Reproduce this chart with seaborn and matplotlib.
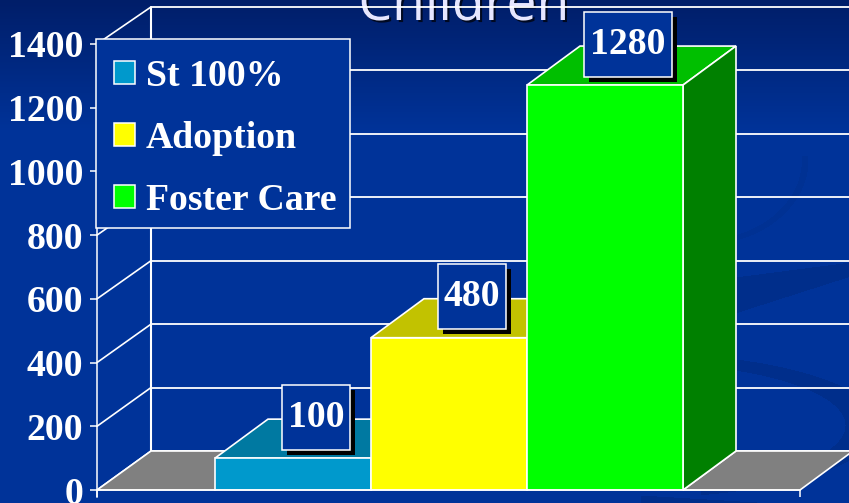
import numpy as np
import pandas as pd
import matplotlib
matplotlib.use("Agg")
import matplotlib.pyplot as plt
import matplotlib.patheffects as pe
from matplotlib.patches import Patch, Polygon, Rectangle
from matplotlib.path import Path
import seaborn as sns

categories = ["St 100%", "Adoption", "Foster Care"]
bar_heights = [100, 478, 1271]
bar_labels = ["100", "480", "1280"]
front_colors = ["#0099CC", "#FFFF00", "#00FF00"]
top_colors = ["#0079A1", "#C2C200", "#00BF00"]
side_colors = ["#006080", "#808000", "#008000"]
y_levels = [0, 200, 400, 600, 800, 1000, 1200, 1400]

W, H = 849, 503
PX_PER_CAT = 156.0
PX_PER_VAL = 0.3186
X0_PX, Y0_PX = 293.0, 490.0
DEPTH_X = 53 / PX_PER_CAT
DEPTH_Y = 39 / PX_PER_VAL
WALL_SCALE = 0.9955
LEFT = (97 - X0_PX) / PX_PER_CAT
RIGHT = (800 - X0_PX) / PX_PER_CAT
EDGE = "#FFFFFF"
BOXBLUE = "#003399"
SERIF = "Liberation Serif"
FS = 27.2

sns.set_theme(style="white")
plt.rcParams["font.family"] = [SERIF, "DejaVu Serif"]

fig = plt.figure(figsize=(W / 100, H / 100), dpi=100)

# background: dark band on top fading into the slide blue, with faint swooshes
yy = np.clip(np.arange(H) / 130.0, 0, 1)[:, None]
top_c = np.array([0, 30, 105]) / 255
bot_c = np.array([0, 51, 153]) / 255
bg = np.repeat(top_c[None, None, :] * (1 - yy[..., None]) + bot_c[None, None, :] * yy[..., None], W, axis=1)
xx, ygrid = np.meshgrid(np.arange(W), np.arange(H))
band_a = (ygrid > 277 - (xx - 735) * 0.13) & (ygrid < 313 - (xx - 735) * 0.32) & (xx > 640)
ell_in = ((xx - 640) / 205.0) ** 2 + ((ygrid - 425) / 62.0) ** 2
ell_out = ((xx - 640) / 240.0) ** 2 + ((ygrid - 425) / 72.0) ** 2
band_b = (ell_in > 1) & (ell_out < 1) & (xx > 700)
band_c = (ygrid > 495 + (xx - 640) * 0.06) & (xx > 640) & (xx < 760)
ring = ((xx - 700) / 108.0) ** 2 + ((ygrid - 160) / 85.0) ** 2
band_d = (ring > 0.88) & (ring < 1) & (ygrid > 155) & (xx > 735)
shade = 0.09 * (band_a | band_b | band_c) + 0.035 * band_d
bg = bg * (1 - shade[..., None])
fig.figimage(bg, 0, 0, origin="upper", zorder=-10)
fig.patch.set_alpha(0)

ax = fig.add_axes([0, 0, 1, 1])
ax.patch.set_alpha(0)

df = pd.DataFrame({"category": categories, "value": bar_heights})
sns.barplot(data=df, x="category", y="value", hue="category", palette=front_colors,
            hue_order=categories, order=categories, width=1.0, legend=False, ax=ax,
            edgecolor=EDGE, linewidth=1.2, saturation=1, zorder=4)

ax.set_xlim(-X0_PX / PX_PER_CAT, (W - X0_PX) / PX_PER_CAT)
ax.set_ylim((Y0_PX - H) / PX_PER_VAL, Y0_PX / PX_PER_VAL)
ax.set_xlabel("")
ax.set_ylabel("")

def wall(v):
    return v * WALL_SCALE + DEPTH_Y

xmax = ax.get_xlim()[1]
back_left = LEFT + DEPTH_X * 54 / 53

# back-wall grid and left-wall diagonals
for v in y_levels:
    ax.plot([back_left, xmax + 1], [wall(v), wall(v)], color=EDGE, lw=1.3, zorder=1, solid_capstyle="butt")
    ax.plot([LEFT, back_left], [v, wall(v)], color=EDGE, lw=1.2, zorder=1)
ax.plot([back_left, back_left], [wall(0), wall(y_levels[-1])], color=EDGE, lw=1.5, zorder=1)

# grey floor either side of the bars
ax.add_patch(Polygon([(LEFT, 0), (-0.5, 0), (-0.5 + DEPTH_X, wall(0)), (back_left, wall(0))],
                     facecolor="#808080", edgecolor=EDGE, lw=1.2, zorder=1.5))
ax.add_patch(Polygon([(2.5, 0), (RIGHT, 0), (RIGHT + DEPTH_X, wall(0)), (2.5 + DEPTH_X, wall(0))],
                     facecolor="#808080", edgecolor=EDGE, lw=1.2, zorder=1.5))

# 3-D faces of the bars
for i, h in enumerate(bar_heights):
    r = i + 0.5
    l = i - 0.5
    ax.add_patch(Polygon([(l, h), (r, h), (r + DEPTH_X, h + DEPTH_Y), (l + DEPTH_X, h + DEPTH_Y)],
                         facecolor=top_colors[i], edgecolor=EDGE, lw=1.2, zorder=3))
    ax.add_patch(Polygon([(r, 0), (r, h), (r + DEPTH_X, h + DEPTH_Y), (r + DEPTH_X, DEPTH_Y)],
                         facecolor=side_colors[i], edgecolor=EDGE, lw=1.2, zorder=3))

# axes drawn with real spines and ticks
for s in ["top", "right"]:
    ax.spines[s].set_visible(False)
ax.spines["left"].set_position(("data", LEFT))
ax.spines["left"].set_bounds(-22, y_levels[-1])
ax.spines["bottom"].set_position(("data", 0))
ax.spines["bottom"].set_bounds(LEFT, RIGHT)
for s in ["left", "bottom"]:
    ax.spines[s].set_color(EDGE)
    ax.spines[s].set_linewidth(1.1)
    ax.spines[s].set_zorder(5)
ax.set_yticks(y_levels)
ax.set_yticklabels([str(v) for v in y_levels])
ax.set_xticks([LEFT, RIGHT])
ax.set_xticklabels(["", ""])
ax.tick_params(axis="y", left=True, length=5, width=1.1, color=EDGE, pad=5,
               labelcolor=EDGE, labelsize=FS)
ax.tick_params(axis="x", bottom=True, length=5, width=1.1, color=EDGE)
for t in ax.get_yticklabels():
    t.set_fontweight("bold")
    t.set_fontfamily([SERIF, "DejaVu Serif"])

# value boxes
def value_box(x0, y0, w, h, mutation_size):
    pad_x, pad_y = 6.0, 15.0
    a, b, c, d = x0 - pad_x, y0 - pad_y, x0 + w + pad_x, y0 + h + pad_y
    return Path([(a, b), (c, b), (c, d), (a, d), (a, b)], closed=True)

for i, (h, lab) in enumerate(zip(bar_heights, bar_labels)):
    t = ax.annotate(lab, xy=(i, h), xytext=(23 * 0.72, 41 * 0.72), textcoords="offset points",
                    ha="center", va="center", color=EDGE, fontsize=FS, fontweight="bold",
                    zorder=8,
                    bbox=dict(boxstyle=value_box, facecolor=BOXBLUE, edgecolor=EDGE, linewidth=1.1))
    t.get_bbox_patch().set_path_effects(
        [pe.withSimplePatchShadow(offset=(3.6, -3.6), shadow_rgbFace="black", alpha=1.0, rho=1)])

# legend: frame drawn separately so its size and the rows can be placed independently
ax.add_patch(Rectangle((96 / W, 1 - 228 / H), 254 / W, 189 / H, transform=fig.transFigure,
                       facecolor=BOXBLUE, edgecolor=EDGE, linewidth=1.1, zorder=8.5, clip_on=False))
handles = [Patch(facecolor=c, edgecolor=EDGE, linewidth=1.1) for c in front_colors]
leg = ax.legend(handles, categories, loc="upper left",
                bbox_to_anchor=(97 / W, 1 - 41.5 / H), bbox_transform=fig.transFigure,
                frameon=False, prop=dict(family=SERIF, weight="bold", size=FS), labelcolor=EDGE,
                handlelength=0.555, handleheight=0.555, handletextpad=0.29,
                labelspacing=0.72, borderpad=0.45, borderaxespad=0)
leg.set_zorder(9)

# clipped title, sitting behind the chart lines
fig.text(464 / W, 1 - 20 / H, "Children", ha="center", va="baseline", fontsize=38.5,
         family="Open Sans", color="#E6E6FF", zorder=-1,
         path_effects=[pe.SimplePatchShadow(offset=(1.5, -1.5), shadow_rgbFace="black", alpha=0.7), pe.Normal()])

fig.savefig("out.png", dpi=100, facecolor="#003399")
